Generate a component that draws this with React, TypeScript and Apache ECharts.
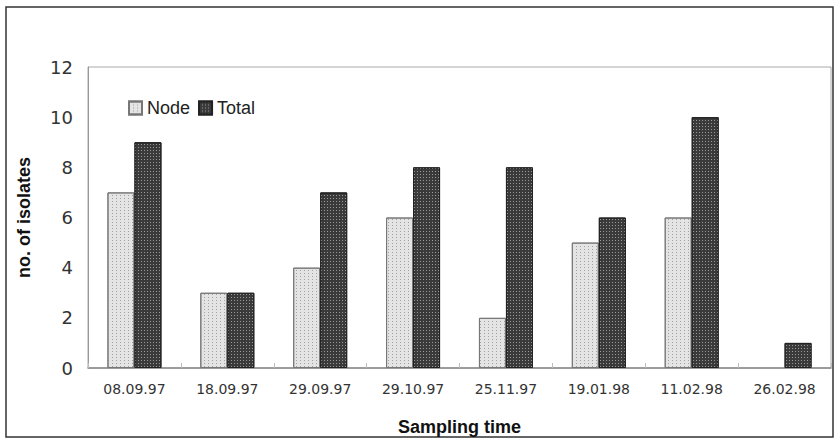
import React, { useEffect, useRef } from "react";
import * as echarts from "echarts";

const categories = ["08.09.97", "18.09.97", "29.09.97", "29.10.97", "25.11.97", "19.01.98", "11.02.98", "26.02.98"];
const nodeValues = [7, 3, 4, 6, 2, 5, 6, 0];
const totalValues = [9, 3, 7, 8, 8, 6, 10, 1];
const seriesNames = ["Node", "Total"];
const yAxisTitle = "no. of isolates";
const xAxisTitle = "Sampling time";

export default function App() {
  const ref = useRef<HTMLDivElement>(null);
  useEffect(() => {
    document.body.style.margin = "0";
    const chart = echarts.init(ref.current!, null, { renderer: "svg" });
    const nodeDecal = {
      symbol: "rect",
      symbolSize: 1,
      color: "#a0a0a0",
      backgroundColor: "#f2f2f2",
      dashArrayX: [1, 3],
      dashArrayY: [1, 2],
      rotation: 0,
    };
    const totalDecal = {
      symbol: "rect",
      symbolSize: 1,
      color: "#9a9a9a",
      backgroundColor: "#2a2a2a",
      dashArrayX: [1, 2],
      dashArrayY: [1, 2],
      rotation: 0,
    };
    chart.setOption({
      animation: false,
      textStyle: { fontFamily: "Liberation Sans, Arial, sans-serif" },
      graphic: [
        {
          type: "rect",
          shape: { x: 6, y: 7, width: 827, height: 430 },
          style: { fill: "none", stroke: "#333", lineWidth: 1.5 },
          silent: true,
        },
      ],
      legend: {
        left: 123,
        top: 94,
        itemWidth: 13,
        itemHeight: 13,
        itemGap: 8,
        icon: "rect",
        data: seriesNames,
        textStyle: { fontSize: 18, color: "#222", padding: [0, 0, 0, 0] },
      },
      grid: { left: 88, right: 6, top: 67, bottom: 76, show: true, borderColor: "#aaa", borderWidth: 1 },
      xAxis: {
        type: "category",
        data: categories,
        name: xAxisTitle,
        nameLocation: "middle",
        nameGap: 50,
        nameTextStyle: { fontSize: 18, fontWeight: "bold", color: "#111" },
        axisLine: { lineStyle: { color: "#888", width: 1.5 } },
        axisTick: { show: true, inside: true, length: 5, lineStyle: { color: "#bbb" } },
        axisLabel: { fontSize: 14, color: "#333", margin: 14, fontFamily: "DejaVu Sans" },
      },
      yAxis: {
        type: "value",
        min: 0,
        max: 12,
        interval: 2,
        name: yAxisTitle,
        nameLocation: "middle",
        nameGap: 55,
        nameTextStyle: { fontSize: 18, fontWeight: "bold", color: "#111" },
        splitLine: { show: false },
        axisLine: { show: true, lineStyle: { color: "#999" } },
        axisTick: { show: false },
        axisLabel: { fontSize: 18, color: "#333", margin: 15, fontFamily: "DejaVu Sans" },
      },
      series: [
        {
          name: seriesNames[0],
          type: "bar",
          data: nodeValues.map((v) => (v === 0 ? { value: v, itemStyle: { borderWidth: 0 } } : v)),
          barWidth: 27,
          barGap: "0%",
          itemStyle: { color: "#e4e4e4", borderColor: "#777", borderWidth: 1, decal: nodeDecal },
        },
        {
          name: seriesNames[1],
          type: "bar",
          data: totalValues,
          barWidth: 27,
          barGap: "0%",
          itemStyle: { color: "#3a3a3a", borderColor: "#222", borderWidth: 1, decal: totalDecal },
        },
      ],
    });
    return () => chart.dispose();
  }, []);
  return <div ref={ref} style={{ width: 837, height: 444 }} />;
}
